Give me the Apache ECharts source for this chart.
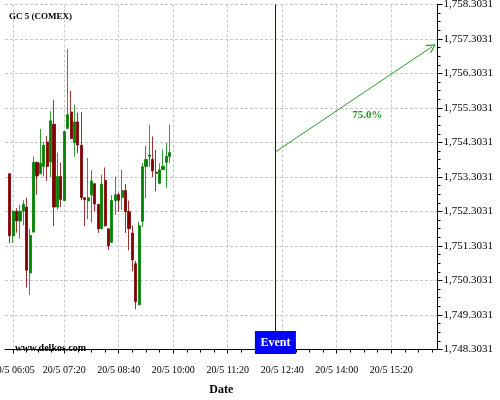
<!DOCTYPE html>
<html><head><meta charset="utf-8">
<script src="https://cdn.jsdelivr.net/npm/echarts@6/dist/echarts.min.js"></script>
<style>html,body{margin:0;padding:0;background:#fff}#c{width:500px;height:400px}</style>
</head><body><div id="c"></div>
<script>
// ---- data ----
const times = ['06:00','06:05','06:10','06:15','06:20','06:25','06:30','06:35','06:40','06:45','06:50','06:55',
  '07:00','07:05','07:10','07:15','07:20','07:25','07:30','07:35','07:40','07:45','07:50','07:55',
  '08:00','08:05','08:10','08:15','08:20','08:25','08:30','08:35','08:40','08:45','08:50','08:55',
  '09:00','09:05','09:10','09:15','09:20','09:25','09:30','09:35','09:40','09:45','09:50','09:55'];
const opens = [1753.40,1751.60,1752.31,1752.03,1752.31,1752.43,1750.52,1751.71,1753.73,1753.40,1753.61,1754.32,
  1753.74,1754.83,1752.43,1753.32,1752.62,1754.71,1755.19,1754.30,1754.90,1754.22,1752.70,1752.61,
  1752.78,1753.11,1752.51,1751.81,1753.20,1751.80,1751.41,1752.62,1752.79,1752.71,1752.91,1752.30,
  1751.68,1750.79,1749.60,1752.02,1753.61,1753.90,1753.81,1753.44,1753.12,1753.52,1753.73,1753.90];
const closes = [1751.60,1752.31,1752.03,1752.31,1752.51,1750.60,1751.61,1753.73,1753.33,1753.70,1754.22,1753.61,
  1754.93,1752.43,1753.32,1752.65,1754.62,1755.11,1754.42,1754.90,1754.23,1752.71,1752.65,1752.70,
  1753.19,1752.52,1751.80,1753.10,1751.89,1751.31,1752.62,1752.79,1752.63,1752.91,1752.30,1751.81,
  1750.90,1749.69,1751.89,1753.60,1753.81,1753.94,1753.48,1753.41,1753.51,1753.61,1753.90,1754.01];
const lows = [1751.38,1751.39,1751.69,1751.52,1751.90,1750.10,1749.89,1751.68,1752.79,1753.38,1753.32,1753.19,
  1753.30,1751.88,1752.35,1752.43,1752.62,1754.71,1754.41,1753.89,1753.99,1752.63,1751.88,1752.08,
  1751.98,1752.30,1751.68,1751.78,1751.87,1751.19,1751.39,1752.20,1752.29,1752.35,1751.68,1751.18,
  1750.57,1749.47,1749.58,1751.85,1752.69,1753.60,1753.30,1752.89,1753.10,1753.51,1752.99,1753.72];
const highs = [1753.40,1752.33,1752.40,1752.50,1752.63,1752.70,1751.81,1753.90,1753.73,1754.69,1754.32,1754.49,
  1755.21,1755.53,1754.01,1753.72,1754.62,1757.01,1755.80,1755.39,1755.17,1755.19,1752.72,1753.86,
  1753.50,1753.11,1752.51,1753.37,1753.58,1751.80,1752.78,1753.31,1752.85,1753.51,1753.10,1752.62,
  1751.90,1750.87,1752.01,1753.71,1754.20,1754.82,1754.48,1754.09,1753.70,1754.10,1754.29,1754.82];
const xTickTimes = ['06:05','07:20','08:40','10:00','11:20','12:40','14:00','15:20'];
const xRange = ['05:53','16:28'];
const yMin = 1748.3031, yMax = 1758.3031, yStep = 1;
const eventTime = '12:30';
const eventLabel = 'Event';
const arrowStart = ['12:30', 1754.03];
const arrowEnd = ['16:20', 1757.08];
const arrowText = '75.0%';
const arrowTextAt = ['14:45', 1755.09];
const titleText = 'GC 5 (COMEX)';
const siteText = 'www.delkos.com';
const dayLabel = '20/5';

// ---- helpers ----
const toMin = t => { const p = t.split(':'); return (+p[0]) * 60 + (+p[1]); };
const pad = n => (n < 10 ? '0' : '') + n;
const fmtTime = m => dayLabel + ' ' + pad(Math.floor(m / 60)) + ':' + pad(Math.round(m % 60));
const xMin = toMin(xRange[0]), xMax = toMin(xRange[1]);
const majorVals = xTickTimes.map(toMin);
const minorVals = [];
for (let i = 0; i < majorVals.length - 1; i++) {
  const a = majorVals[i], b = majorVals[i + 1];
  for (let k = 1; k < 4; k++) minorVals.push(a + (b - a) * k / 4);
}
{
  const last = majorVals[majorVals.length - 1];
  const step = (majorVals[2] - majorVals[1]) / 4;
  for (let v = last + step; v <= xMax; v += step) minorVals.push(v);
}
const candles = times.map((t, i) => [toMin(t), opens[i], closes[i], lows[i], highs[i]]);
const serif = 'Liberation Serif, Times New Roman, serif';
const fmtY = v => v.toLocaleString('en-US', {minimumFractionDigits: 4, maximumFractionDigits: 4});

const chart = echarts.init(document.getElementById('c'), null, {renderer: 'canvas'});
chart.setOption({
  animation: false,
  backgroundColor: '#fff',
  title: {text: titleText, left: 9, top: 12, padding: 0,
    textStyle: {fontFamily: serif, fontWeight: 'bold', fontSize: 9, color: '#000'}},
  graphic: [{type: 'text', left: 15, top: 343,
    style: {text: siteText, font: 'bold 10px ' + serif, fill: '#000'}}],
  grid: {left: 5, right: 62.5, top: 4.5, bottom: 50.5, containLabel: false, outerBoundsMode: 'none'},
  xAxis: [{
    type: 'value', min: xMin, max: xMax, position: 'bottom',
    name: 'Date', nameLocation: 'middle', nameGap: 34,
    nameTextStyle: {fontFamily: serif, fontWeight: 'bold', fontSize: 12, color: '#000'},
    axisLine: {show: true, lineStyle: {color: '#000', width: 1}},
    axisTick: {show: true, customValues: majorVals, length: 4, lineStyle: {color: '#000'}},
    axisLabel: {show: true, customValues: majorVals, formatter: fmtTime, margin: 16,
      fontFamily: serif, fontSize: 10, color: '#000'},
    splitLine: {show: true, lineStyle: {color: '#c8c8c8', type: [3, 2], width: 1}}
  }, {
    type: 'value', min: xMin, max: xMax, position: 'bottom',
    axisLine: {show: false},
    axisTick: {show: true, customValues: minorVals, length: 3, lineStyle: {color: '#000'}},
    axisLabel: {show: false},
    splitLine: {show: false}
  }],
  yAxis: {
    type: 'value', position: 'right', min: yMin, max: yMax, interval: yStep + 1e-8,
    axisLine: {show: true, lineStyle: {color: '#000', width: 1}},
    axisTick: {show: true, length: 5, lineStyle: {color: '#000'}},
    minorTick: {show: true, splitNumber: 4, length: 3, lineStyle: {color: '#000'}},
    axisLabel: {formatter: fmtY, margin: 6, fontFamily: serif, fontSize: 11, color: '#000'},
    splitLine: {show: true, lineStyle: {color: '#c8c8c8', type: [3, 2], width: 1}}
  },
  series: [{
    type: 'candlestick',
    xAxisIndex: 0,
    data: candles,
    encode: {x: 0, y: [1, 2, 3, 4]},
    barWidth: 2.6,
    itemStyle: {color: '#008000', color0: '#800000', borderColor: '#008000', borderColor0: '#800000', borderWidth: 0.8},
    markLine: {
      silent: true, symbol: 'none', animation: false,
      label: {show: false},
      data: [
        [{coord: [toMin(eventTime), yMin], symbol: 'none'}, {coord: [toMin(eventTime), yMax], symbol: 'none',
          lineStyle: {color: '#0000cc', width: 1, type: 'solid'}}],
        [{coord: [toMin(arrowStart[0]), arrowStart[1]], symbol: 'none'},
         {coord: [toMin(arrowEnd[0]), arrowEnd[1]], symbol: 'path://M5,0 L10,10 L8.6,10 L5,2.6 L1.4,10 L0,10 Z', symbolSize: [10, 9],
          lineStyle: {color: '#2a9a2a', width: 1, type: 'solid'}}]
      ],
      lineStyle: {width: 1, type: 'solid'}
    },
    markPoint: {
      silent: true, animation: false,
      data: [
        {coord: [toMin(eventTime), yMin], symbol: 'rect', symbolSize: [41, 23], symbolOffset: [0, -7],
          itemStyle: {color: '#0000ff'},
          label: {show: true, position: 'inside', formatter: eventLabel, color: '#fff', fontFamily: serif, fontWeight: 'bold', fontSize: 12}},
        {coord: [toMin(arrowTextAt[0]), arrowTextAt[1]], symbol: 'circle', symbolSize: 0,
          itemStyle: {color: 'transparent'},
          label: {show: true, position: 'inside', formatter: arrowText, color: '#229922', fontFamily: serif, fontWeight: 'bold', fontSize: 11}}
      ]
    }
  }]
});
</script>
</body></html>
